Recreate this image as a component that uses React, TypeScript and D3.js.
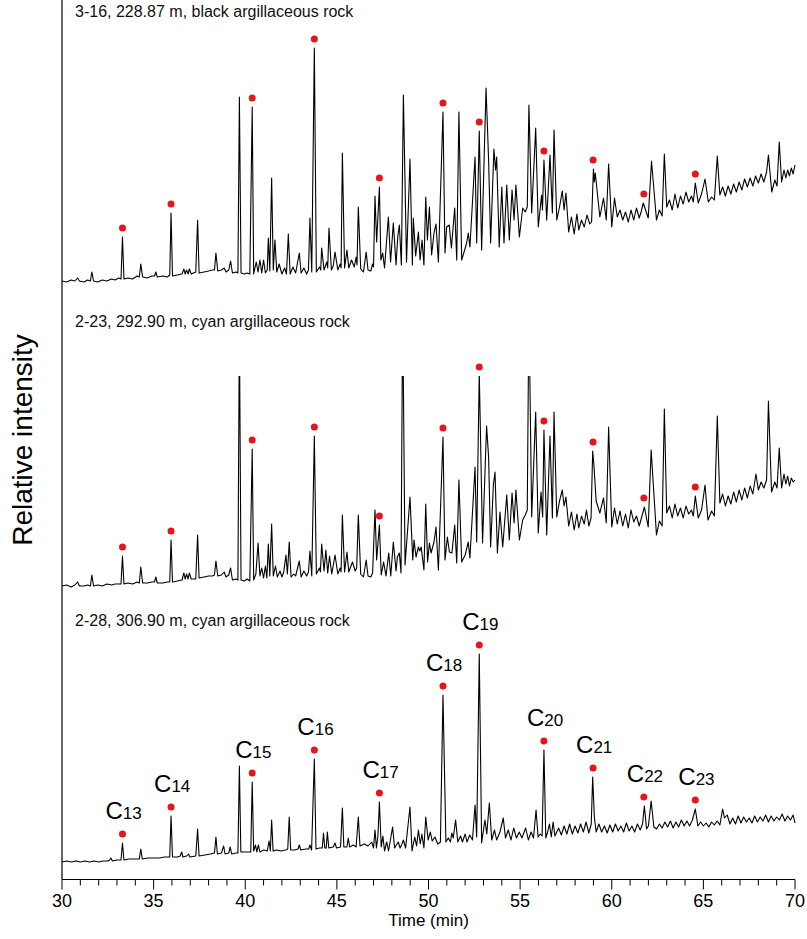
import React from "react";
import * as d3 from "d3";

type Pt = [number, number];

// ---- data (time in min, relative intensity in arbitrary units above each trace's start level) ----
const xTickLabels = [30, 35, 40, 45, 50, 55, 60, 65, 70];
const xMinorTicks = [30,31,32,33,34,35,36,37,38,39,40,41,42,43,44,45,46,47,48,49,50,51,52,53,54,55,56,57,58,59,60,61,62,63,64,65,66,67,68,69,70];

const sampleTitles = [
  "3-16, 228.87 m, black argillaceous rock",
  "2-23, 292.90 m, cyan argillaceous rock",
  "2-28, 306.90 m, cyan argillaceous rock",
];

const alkaneNumbers = ["13", "14", "15", "16", "17", "18", "19", "20", "21", "22", "23"];
const alkaneTimes = [33.3, 35.95, 40.38, 43.77, 47.32, 50.79, 52.77, 56.3, 58.98, 61.75, 64.56];

const trace316: Pt[] = [[30.0,1],[30.25,0],[30.5,2],[30.7,1],[30.85,4],[30.95,1],[31.2,0],[31.4,2],[31.55,1],[31.63,10],[31.72,1],[31.95,0],[32.2,2],[32.45,1],[32.7,3],[32.9,2],[33.1,4],[33.22,3],[33.3,45],[33.38,3],[33.6,4],[33.85,3],[34.1,6],[34.22,5],[34.3,18],[34.4,5],[34.65,4],[34.9,6],[35.05,6],[35.12,10],[35.2,5],[35.5,6],[35.75,5],[35.88,7],[35.95,69],[36.03,6],[36.3,7],[36.55,8],[36.65,13],[36.72,8],[36.8,12],[36.88,8],[36.95,13],[37.05,8],[37.3,10],[37.4,62],[37.48,9],[37.75,10],[38.0,11],[38.2,12],[38.32,12],[38.4,29],[38.5,11],[38.7,12],[38.85,14],[38.95,10],[39.1,12],[39.2,21],[39.3,9],[39.5,10],[39.6,9],[39.68,185],[39.77,9],[39.95,8],[40.1,9],[40.25,8],[40.38,175],[40.46,8],[40.6,20],[40.7,10],[40.8,22],[40.9,9],[41.0,22],[41.1,9],[41.2,12],[41.26,44],[41.34,11],[41.44,104],[41.53,12],[41.62,42],[41.72,10],[41.85,18],[42.0,8],[42.15,14],[42.25,8],[42.35,48],[42.45,8],[42.6,15],[42.75,9],[42.95,29],[43.05,9],[43.2,14],[43.35,8],[43.45,12],[43.53,64],[43.63,10],[43.77,234],[43.88,10],[44.05,15],[44.12,12],[44.17,34],[44.3,12],[44.45,20],[44.5,14],[44.57,54],[44.7,12],[44.8,16],[44.9,30],[45.05,12],[45.18,18],[45.23,14],[45.3,129],[45.42,14],[45.55,32],[45.65,14],[45.8,22],[45.95,15],[46.05,25],[46.1,17],[46.17,75],[46.3,13],[46.45,10],[46.6,30],[46.7,12],[46.85,11],[46.95,18],[47.0,15],[47.08,86],[47.17,40],[47.32,95],[47.4,22],[47.5,29],[47.6,14],[47.81,65],[47.93,20],[48.08,59],[48.23,17],[48.32,45],[48.41,57],[48.52,17],[48.63,187],[48.8,20],[48.99,123],[49.12,17],[49.17,64],[49.3,26],[49.45,50],[49.54,22],[49.65,42],[49.75,17],[49.85,85],[49.94,42],[50.05,75],[50.17,27],[50.3,49],[50.41,58],[50.54,20],[50.79,170],[50.9,29],[50.99,55],[51.13,57],[51.25,34],[51.43,74],[51.54,22],[51.66,170],[51.81,22],[51.94,30],[52.08,39],[52.17,49],[52.26,35],[52.54,125],[52.63,39],[52.77,151],[52.9,32],[53.14,194],[53.28,122],[53.39,39],[53.57,133],[53.66,112],[53.72,125],[53.86,35],[54.0,95],[54.12,39],[54.27,97],[54.41,42],[54.56,92],[54.67,62],[54.77,97],[54.96,45],[55.14,74],[55.28,70],[55.39,75],[55.48,177],[55.63,69],[55.85,154],[55.99,55],[56.17,87],[56.22,72],[56.3,122],[56.45,62],[56.63,127],[56.76,69],[56.85,152],[57.0,62],[57.15,75],[57.3,91],[57.4,72],[57.5,89],[57.65,50],[57.8,65],[57.95,48],[58.1,68],[58.2,52],[58.35,62],[58.5,55],[58.65,67],[58.8,58],[58.9,60],[59.0,113],[59.05,100],[59.1,109],[59.35,65],[59.55,84],[59.7,62],[59.83,118],[60.0,55],[60.15,84],[60.3,65],[60.45,72],[60.6,62],[60.75,70],[60.9,60],[61.05,72],[61.2,62],[61.35,74],[61.5,64],[61.6,70],[61.72,79],[61.99,64],[62.17,121],[62.44,62],[62.6,72],[62.75,66],[62.87,128],[63.0,75],[63.15,82],[63.3,72],[63.45,88],[63.6,74],[63.75,86],[63.9,78],[64.05,90],[64.2,80],[64.35,86],[64.45,80],[64.56,99],[64.72,79],[64.9,88],[65.09,103],[65.27,80],[65.45,85],[65.6,82],[65.76,126],[65.9,87],[66.05,95],[66.2,86],[66.35,96],[66.5,88],[66.65,98],[66.8,90],[66.95,100],[67.1,92],[67.25,103],[67.4,95],[67.55,104],[67.7,96],[67.85,106],[68.0,99],[68.15,108],[68.3,100],[68.45,110],[68.55,127],[68.73,90],[68.9,102],[69.02,96],[69.14,140],[69.27,100],[69.4,112],[69.5,104],[69.6,112],[69.7,106],[69.8,114],[69.9,108],[70.0,117]];

const trace223: Pt[] = [[30.0,0],[30.25,1],[30.5,-1],[30.7,1],[30.85,4],[30.95,0],[31.2,0],[31.4,1],[31.55,0],[31.63,11],[31.72,0],[31.95,1],[32.2,0],[32.45,2],[32.7,1],[32.9,2],[33.1,2],[33.22,2],[33.3,30],[33.38,2],[33.6,3],[33.85,2],[34.1,4],[34.22,3],[34.3,19],[34.4,3],[34.65,3],[34.9,4],[35.05,4],[35.12,9],[35.2,3],[35.5,3],[35.75,4],[35.88,4],[35.95,46],[36.03,4],[36.3,5],[36.55,6],[36.65,13],[36.72,7],[36.8,12],[36.88,7],[36.95,13],[37.05,7],[37.3,7],[37.4,51],[37.48,8],[37.75,9],[38.0,10],[38.2,10],[38.32,11],[38.4,25],[38.5,10],[38.7,11],[38.85,14],[38.95,9],[39.1,11],[39.2,18],[39.3,6],[39.5,7],[39.6,6],[39.68,260],[39.77,6],[39.95,5],[40.1,7],[40.25,5],[40.38,137],[40.46,6],[40.58,12],[40.7,43],[40.8,10],[40.9,18],[41.0,8],[41.1,20],[41.18,8],[41.26,42],[41.34,10],[41.44,62],[41.53,10],[41.65,20],[41.75,9],[41.9,15],[42.0,9],[42.1,14],[42.22,31],[42.3,12],[42.4,44],[42.5,9],[42.65,12],[42.75,10],[42.95,25],[43.05,9],[43.2,15],[43.35,10],[43.45,14],[43.53,35],[43.63,10],[43.77,150],[43.88,12],[44.05,18],[44.1,14],[44.17,42],[44.3,15],[44.4,36],[44.5,13],[44.6,30],[44.72,12],[44.9,31],[45.05,12],[45.18,18],[45.23,14],[45.3,71],[45.42,14],[45.55,34],[45.65,14],[45.85,24],[46.0,15],[46.08,18],[46.17,71],[46.3,12],[46.45,9],[46.6,26],[46.7,10],[46.85,9],[46.95,13],[47.08,76],[47.17,26],[47.32,61],[47.42,11],[47.55,24],[47.68,10],[47.83,33],[47.94,10],[48.08,44],[48.23,15],[48.3,29],[48.41,33],[48.5,13],[48.59,280],[48.72,21],[48.99,89],[49.14,26],[49.21,46],[49.32,29],[49.45,39],[49.52,35],[49.6,39],[49.75,16],[49.85,82],[49.95,24],[50.05,43],[50.14,33],[50.3,44],[50.41,59],[50.54,16],[50.79,149],[50.9,26],[51.03,49],[51.14,34],[51.28,33],[51.43,61],[51.54,23],[51.66,106],[51.81,24],[52.0,31],[52.17,44],[52.26,28],[52.54,119],[52.63,44],[52.77,214],[52.95,43],[53.17,160],[53.28,129],[53.39,39],[53.54,101],[53.63,114],[53.76,33],[53.9,74],[54.05,39],[54.27,91],[54.41,46],[54.56,93],[54.67,63],[54.77,96],[54.96,46],[55.14,66],[55.28,71],[55.39,76],[55.48,280],[55.63,69],[55.85,174],[55.99,53],[56.14,94],[56.23,69],[56.3,156],[56.45,51],[56.63,150],[56.76,68],[56.85,174],[57.0,69],[57.15,85],[57.3,96],[57.4,80],[57.5,89],[57.65,60],[57.8,74],[57.95,56],[58.1,72],[58.2,58],[58.35,70],[58.5,62],[58.62,76],[58.75,60],[58.87,68],[58.96,135],[59.03,120],[59.15,85],[59.35,73],[59.55,88],[59.7,63],[59.83,159],[60.0,59],[60.15,78],[60.3,62],[60.45,75],[60.6,60],[60.75,72],[60.9,58],[61.05,76],[61.2,64],[61.35,70],[61.5,60],[61.62,68],[61.78,79],[61.99,59],[62.15,136],[62.44,51],[62.6,65],[62.75,60],[62.87,177],[63.0,73],[63.15,80],[63.3,68],[63.45,82],[63.6,70],[63.75,78],[63.9,68],[64.05,80],[64.2,72],[64.35,76],[64.45,70],[64.56,90],[64.72,68],[64.9,76],[65.09,101],[65.25,66],[65.45,75],[65.6,70],[65.76,170],[65.9,83],[66.05,92],[66.2,80],[66.35,90],[66.5,82],[66.65,94],[66.8,84],[66.95,96],[67.1,86],[67.25,98],[67.4,88],[67.55,100],[67.7,92],[67.87,112],[68.0,96],[68.15,104],[68.3,98],[68.45,106],[68.55,185],[68.72,94],[68.9,104],[69.02,98],[69.14,138],[69.27,98],[69.4,112],[69.5,102],[69.6,110],[69.7,100],[69.8,108],[69.9,104],[70.0,106]];

const trace228: Pt[] = [[30.0,0],[30.25,1],[30.5,0],[30.75,1],[31.0,0],[31.25,1],[31.5,0],[31.75,1],[32.0,0],[32.25,1],[32.5,1],[32.6,2],[32.67,4],[32.75,1],[33.0,2],[33.22,2],[33.3,19],[33.38,2],[33.65,3],[33.95,3],[34.22,3],[34.3,13],[34.38,3],[34.7,4],[35.0,4],[35.3,4],[35.6,5],[35.88,5],[35.95,46],[36.03,5],[36.3,5],[36.45,6],[36.53,10],[36.6,5],[36.8,6],[36.9,8],[36.98,5],[37.3,6],[37.4,33],[37.48,6],[37.8,7],[38.1,8],[38.32,9],[38.4,25],[38.48,8],[38.7,9],[38.82,16],[38.9,8],[39.1,9],[39.18,15],[39.26,8],[39.5,9],[39.6,9],[39.68,96],[39.76,10],[40.0,10],[40.2,10],[40.3,10],[40.38,80],[40.46,11],[40.56,17],[40.63,10],[40.72,17],[40.8,10],[41.0,12],[41.2,11],[41.3,21],[41.37,11],[41.44,42],[41.52,11],[41.7,12],[41.95,11],[42.2,12],[42.32,13],[42.4,45],[42.48,12],[42.7,12],[42.88,13],[42.95,17],[43.03,12],[43.3,13],[43.46,13],[43.53,17],[43.62,12],[43.77,103],[43.86,13],[44.05,14],[44.2,14],[44.27,29],[44.34,14],[44.42,14],[44.48,30],[44.56,14],[44.8,15],[44.9,19],[44.98,14],[45.2,15],[45.3,54],[45.38,15],[45.55,15],[45.62,24],[45.7,15],[45.9,17],[46.05,15],[46.17,45],[46.26,16],[46.5,18],[46.7,16],[46.9,20],[47.0,14],[47.08,32],[47.16,14],[47.24,26],[47.32,60],[47.42,15],[47.51,26],[47.6,11],[47.72,20],[47.82,11],[48.04,35],[48.15,14],[48.35,20],[48.45,14],[48.55,18],[48.63,22],[48.75,14],[48.99,55],[49.1,11],[49.25,25],[49.35,16],[49.45,32],[49.55,18],[49.64,28],[49.75,14],[49.85,45],[49.98,22],[50.1,30],[50.2,21],[50.35,25],[50.5,18],[50.65,20],[50.79,167],[50.95,20],[51.08,24],[51.2,20],[51.27,29],[51.35,24],[51.48,42],[51.6,20],[51.75,26],[51.85,20],[52.0,28],[52.1,20],[52.25,27],[52.4,22],[52.54,57],[52.63,25],[52.77,208],[52.9,19],[53.08,42],[53.18,28],[53.32,59],[53.45,22],[53.6,32],[53.72,22],[53.9,30],[54.08,44],[54.2,24],[54.35,32],[54.5,22],[54.65,34],[54.8,24],[54.95,30],[55.1,24],[55.3,34],[55.45,22],[55.6,30],[55.73,24],[55.87,52],[55.98,25],[56.1,28],[56.2,26],[56.3,112],[56.4,24],[56.5,30],[56.6,38],[56.7,25],[56.8,40],[56.9,26],[57.1,34],[57.25,27],[57.4,36],[57.55,28],[57.7,38],[57.85,28],[58.0,36],[58.15,29],[58.3,38],[58.45,30],[58.6,40],[58.75,29],[58.88,38],[58.96,85],[59.05,45],[59.15,30],[59.3,38],[59.45,30],[59.6,36],[59.75,29],[59.9,37],[60.05,30],[60.2,38],[60.35,31],[60.5,36],[60.65,30],[60.8,39],[60.95,31],[61.1,36],[61.25,30],[61.4,38],[61.55,32],[61.68,38],[61.78,56],[61.9,33],[62.0,36],[62.15,61],[62.3,35],[62.45,33],[62.6,38],[62.75,34],[62.9,40],[63.05,35],[63.2,41],[63.35,34],[63.5,40],[63.65,35],[63.8,42],[63.95,36],[64.1,41],[64.25,36],[64.4,42],[64.56,53],[64.7,36],[64.85,40],[65.0,36],[65.15,39],[65.3,35],[65.45,40],[65.6,37],[65.75,41],[65.9,37],[66.05,53],[66.15,44],[66.3,47],[66.45,38],[66.6,44],[66.75,38],[66.9,46],[67.05,39],[67.2,45],[67.35,40],[67.5,44],[67.65,39],[67.8,46],[67.95,40],[68.1,45],[68.25,41],[68.4,47],[68.55,40],[68.7,46],[68.85,41],[69.0,45],[69.15,42],[69.3,48],[69.45,41],[69.6,46],[69.75,42],[69.9,47],[70.0,39]];

const traces: Pt[][] = [trace316, trace223, trace228];

// ---- layout ----
const W = 807, H = 939;
const plotLeft = 62, plotRight = 795, axisY = 879.5;
const panelZero = [282, 586, 862];
const panelClipTop = [0, 376, 0];
const titleY = [17, 327, 626];
const FONT = "'Liberation Sans', Arial, Helvetica, sans-serif";

function peakAt(tr: Pt[], t: number, cap: number): number {
  let m = -Infinity;
  for (const [tt, v] of tr) if (Math.abs(tt - t) < 0.065 && v > m) m = v;
  return Math.min(m, cap);
}

export default function App() {
  const x = d3.scaleLinear().domain([30, 70]).range([plotLeft, plotRight]);
  const ys = panelZero.map((z) => d3.scaleLinear().domain([0, 250]).range([z, z - 250]));

  return (
    <svg width={W} height={H} style={{ position: "absolute", left: 0, top: 0, background: "#fff" }}
      xmlns="http://www.w3.org/2000/svg">
      <defs>
        {panelClipTop.map((top, i) => (
          <clipPath id={`clip${i}`} key={i}>
            <rect x={plotLeft} y={top} width={plotRight - plotLeft + 2} height={axisY - top} />
          </clipPath>
        ))}
      </defs>
      <rect x={0} y={0} width={W} height={H} fill="#fff" />

      {traces.map((tr, i) => {
        const y = ys[i];
        const line = d3.line<Pt>().x((d) => x(d[0])).y((d) => y(d[1]));
        const capV = y.invert(panelClipTop[i]);
        return (
          <g key={i}>
            <text x={75} y={titleY[i]} fontFamily={FONT} fontSize={16} fill="#111">{sampleTitles[i]}</text>
            <path d={line(tr) || ""} fill="none" stroke="#000" strokeWidth={1.1}
              strokeLinejoin="round" clipPath={`url(#clip${i})`} />
            {alkaneTimes.map((t, k) => {
              const v = peakAt(tr, t, capV);
              const cx = x(t);
              const cy = y(v) - 9;
              return (
                <g key={k}>
                  <circle cx={cx} cy={cy} r={3.5} fill="#e8141b" />
                  {i === 2 && (
                    <text x={cx - 17} y={cy - 15} fontFamily={FONT} fontSize={24} fill="#000">
                      C<tspan fontSize={17}>{alkaneNumbers[k]}</tspan>
                    </text>
                  )}
                </g>
              );
            })}
          </g>
        );
      })}

      {/* axes */}
      <line x1={plotLeft} x2={plotLeft} y1={0} y2={axisY} stroke="#000" strokeWidth={1.2} />
      <line x1={plotLeft} x2={plotRight} y1={axisY} y2={axisY} stroke="#000" strokeWidth={1.2} />
      {xMinorTicks.map((t) => (
        <line key={`m${t}`} x1={x(t)} x2={x(t)} y1={axisY} y2={axisY + (t % 5 === 0 ? 10 : 6)} stroke="#000" strokeWidth={1} />
      ))}
      {xTickLabels.map((t) => (
        <text key={`l${t}`} x={x(t)} y={907} textAnchor="middle" fontFamily={FONT} fontSize={18} fill="#000">{t}</text>
      ))}
      <text x={(plotLeft + plotRight) / 2} y={926} textAnchor="middle" fontFamily={FONT} fontSize={17} fill="#000">Time (min)</text>
      <text transform={`translate(32,440) rotate(-90)`} textAnchor="middle" fontFamily={FONT} fontSize={28} fill="#000">Relative intensity</text>
    </svg>
  );
}
